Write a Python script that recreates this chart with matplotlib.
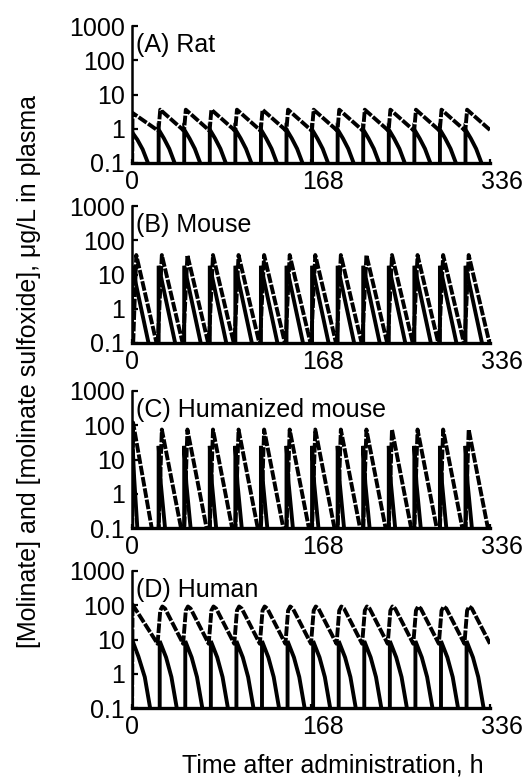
import matplotlib
matplotlib.use('Agg')
import matplotlib.pyplot as plt
import matplotlib.transforms as mtransforms

plt.rcParams['font.family'] = ['Liberation Sans', 'DejaVu Sans']

# dosing schedule, h
dose_times = [0, 24, 48, 72, 96, 120, 144, 168, 192, 216, 240, 264, 288, 312]

# one dosing interval per curve: hours after the dose, ug/L in plasma
# (values under 0.1 run off the bottom of the log axis)
rat_parent_first_t = [0, 0, 5, 10, 15, 20]
rat_parent_first_c = [0.01, 0.8, 0.48, 0.25, 0.1, 0.04]
rat_parent_t = [1, 1, 6, 11, 16, 20]
rat_parent_c = [0.01, 0.95, 0.52, 0.26, 0.1, 0.05]
rat_sulf_first_t = [0, 0.5, 24]
rat_sulf_first_c = [0.01, 2.9, 0.9]
rat_sulf_t = [0, 1, 2.5, 24]
rat_sulf_c = [0.9, 1.0, 3.6, 0.92]

mouse_parent_first_t = [0, 0, 15.5, 20]
mouse_parent_first_c = [0.01, 18, 0.1, 0.03]
mouse_parent_t = [1, 1, 16.5, 21]
mouse_parent_c = [0.01, 18, 0.1, 0.03]
mouse_sulf_first_t = [0, 4, 23, 24]
mouse_sulf_first_c = [0.01, 37, 0.1, 0.08]
mouse_sulf_t = [0, 4, 23.5, 24]
mouse_sulf_c = [0.08, 37, 0.1, 0.08]

hum_parent_first_t = [0, 0, 2, 5, 8]
hum_parent_first_c = [0.01, 60, 3, 0.1, 0.02]
hum_parent_t = [1, 1, 3, 7, 9]
hum_parent_c = [0.01, 25, 2, 0.1, 0.02]
hum_sulf_first_t = [0, 1, 18.5, 22]
hum_sulf_first_c = [0.01, 120, 0.1, 0.02]
hum_sulf_t = [0, 4, 22, 24]
hum_sulf_c = [0.01, 75, 0.1, 0.03]

human_parent_first_t = [0, 0, 6, 12, 17, 20]
human_parent_first_c = [0.01, 10, 3.2, 0.8, 0.1, 0.04]
human_parent_t = [2, 2, 8, 13, 18, 21]
human_parent_c = [0.01, 9, 3, 0.8, 0.1, 0.04]
human_sulf_first_t = [0, 0.5, 24]
human_sulf_first_c = [0.01, 105, 7.5]
human_sulf_t = [0, 2.5, 4.5, 7, 24]
human_sulf_c = [7.5, 70, 92, 80, 7.5]

panel_titles = ['(A) Rat', '(B) Mouse', '(C) Humanized mouse', '(D) Human']
ytick_vals = [0.1, 1, 10, 100, 1000]
ytick_labels = ['0.1', '1', '10', '100', '1000']
xtick_vals = [0, 168, 336]


def course(first_t, first_c, t_rel, c_rel):
    t, c = [], []
    for k, t0 in enumerate(dose_times):
        tt, cc = (first_t, first_c) if k == 0 else (t_rel, c_rel)
        t += [t0 + x for x in tt]
        c += list(cc)
    return t, c


panels = [
    (course(rat_parent_first_t, rat_parent_first_c, rat_parent_t, rat_parent_c),
     course(rat_sulf_first_t, rat_sulf_first_c, rat_sulf_t, rat_sulf_c)),
    (course(mouse_parent_first_t, mouse_parent_first_c, mouse_parent_t, mouse_parent_c),
     course(mouse_sulf_first_t, mouse_sulf_first_c, mouse_sulf_t, mouse_sulf_c)),
    (course(hum_parent_first_t, hum_parent_first_c, hum_parent_t, hum_parent_c),
     course(hum_sulf_first_t, hum_sulf_first_c, hum_sulf_t, hum_sulf_c)),
    (course(human_parent_first_t, human_parent_first_c, human_parent_t, human_parent_c),
     course(human_sulf_first_t, human_sulf_first_c, human_sulf_t, human_sulf_c)),
]

fig = plt.figure(figsize=(5.31, 7.78), dpi=100)
FS = 18
left, width, height = 132 / 531, 358 / 531, 137 / 778
bottoms_px = [163, 343, 528, 708]

for i, ((parent, sulf), title) in enumerate(zip(panels, panel_titles)):
    ax = fig.add_axes([left, 1 - bottoms_px[i] / 778, width, height])
    ax.plot(parent[0], parent[1], color='black', lw=2.8, solid_joinstyle='miter')
    ax.plot(sulf[0], sulf[1], color='black', lw=2.8, linestyle=(0, (2.5, 0.45)))
    ax.set_yscale('log')
    ax.set_ylim(0.1, 1000)
    ax.set_xlim(0, 336)
    ax.set_yticks(ytick_vals)
    ax.set_yticklabels(ytick_labels)
    ax.minorticks_off()
    ax.set_xticks(xtick_vals)
    ax.set_xticklabels([str(v) for v in xtick_vals])
    for s in ['top', 'right']:
        ax.spines[s].set_visible(False)
    ax.spines['left'].set_linewidth(1.8)
    ax.spines['bottom'].set_linewidth(2.4)
    ax.tick_params(axis='y', direction='in', length=4, width=1.6, pad=5, labelsize=FS)
    ax.tick_params(axis='x', direction='in', length=3, width=1.6, pad=5, labelsize=FS)
    ax.text(0.012, 0.86, title, transform=ax.transAxes, fontsize=FS, va='center', ha='left')
    # the scanned figure has its 168 and 336 labels sitting a little right of the ticks
    for lab in ax.get_xticklabels()[1:]:
        lab.set_transform(lab.get_transform() +
                          mtransforms.ScaledTranslation(0.12, 0, fig.dpi_scale_trans))

fig.text(29 / 531, 1 - 372 / 778,
         '[Molinate] and [molinate sulfoxide], \u03bcg/L in plasma',
         rotation=90, ha='center', va='center', fontsize=FS)
fig.text(333 / 531, 1 - 765 / 778, 'Time after administration, h',
         ha='center', va='center', fontsize=FS)

fig.savefig('out.png', dpi=100)
